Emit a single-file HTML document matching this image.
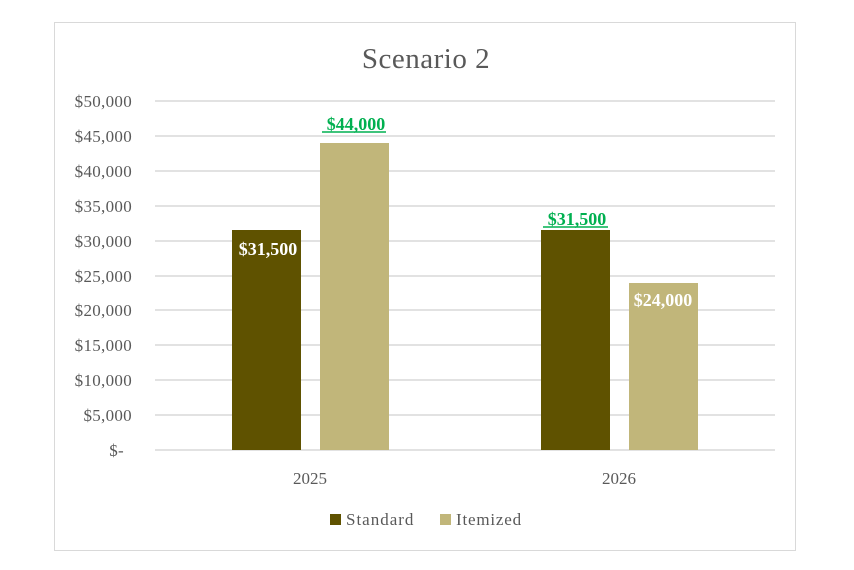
<!DOCTYPE html>
<html><head><style>body{margin:0;background:#fff}svg{display:block}</style></head><body>
<svg width="854" height="570" xmlns="http://www.w3.org/2000/svg" font-family="Liberation Serif, serif">
<rect x="0" y="0" width="854" height="570" fill="#fff"/>
<rect x="54.5" y="22.5" width="741" height="528" fill="#fff" stroke="#d9d9d9"/>
<text x="426" y="68" text-anchor="middle" font-size="29" fill="#595959" letter-spacing="0.5">Scenario 2</text>
<g stroke="#d9d9d9" stroke-width="1.5">
<line x1="155" x2="775" y1="101" y2="101"/><line x1="155" x2="775" y1="136" y2="136"/>
<line x1="155" x2="775" y1="171" y2="171"/><line x1="155" x2="775" y1="206" y2="206"/>
<line x1="155" x2="775" y1="241" y2="241"/><line x1="155" x2="775" y1="276" y2="276"/>
<line x1="155" x2="775" y1="310" y2="310"/><line x1="155" x2="775" y1="345" y2="345"/>
<line x1="155" x2="775" y1="380" y2="380"/><line x1="155" x2="775" y1="415" y2="415"/>
<line x1="155" x2="775" y1="450" y2="450"/>
</g>
<g font-size="17" fill="#595959" text-anchor="end" letter-spacing="0.3">
<text x="132" y="107">$50,000</text><text x="132" y="142">$45,000</text>
<text x="132" y="177">$40,000</text><text x="132" y="212">$35,000</text>
<text x="132" y="247">$30,000</text><text x="132" y="282">$25,000</text>
<text x="132" y="316">$20,000</text><text x="132" y="351">$15,000</text>
<text x="132" y="386">$10,000</text><text x="132" y="421">$5,000</text>
<text x="124" y="456">$-</text>
</g>
<rect x="232" y="230" width="69" height="220" fill="#5f5200"/>
<rect x="320" y="143" width="69" height="307" fill="#c1b67a"/>
<rect x="541" y="230" width="69" height="220" fill="#5f5200"/>
<rect x="629" y="283" width="69" height="167" fill="#c1b67a"/>
<g font-size="18" font-weight="bold">
<text x="268" y="255" text-anchor="middle" fill="#fff">$31,500</text>
<text x="663" y="306" text-anchor="middle" fill="#fff">$24,000</text>
<text x="356" y="130" text-anchor="middle" fill="#00b050">$44,000</text>
<text x="577" y="225" text-anchor="middle" fill="#00b050">$31,500</text>
</g>
<line x1="322" x2="386" y1="132" y2="132" stroke="#00b050" stroke-width="1.5"/>
<line x1="543" x2="608" y1="227" y2="227" stroke="#00b050" stroke-width="1.5"/>
<g font-size="17" fill="#595959" text-anchor="middle">
<text x="310" y="484">2025</text><text x="619" y="484">2026</text>
</g>
<rect x="330" y="514" width="11" height="11" fill="#5f5200"/>
<text x="346" y="525" font-size="17" fill="#595959" letter-spacing="1">Standard</text>
<rect x="440" y="514" width="11" height="11" fill="#c1b67a"/>
<text x="456" y="525" font-size="17" fill="#595959" letter-spacing="0.8">Itemized</text>
</svg>
</body></html>
